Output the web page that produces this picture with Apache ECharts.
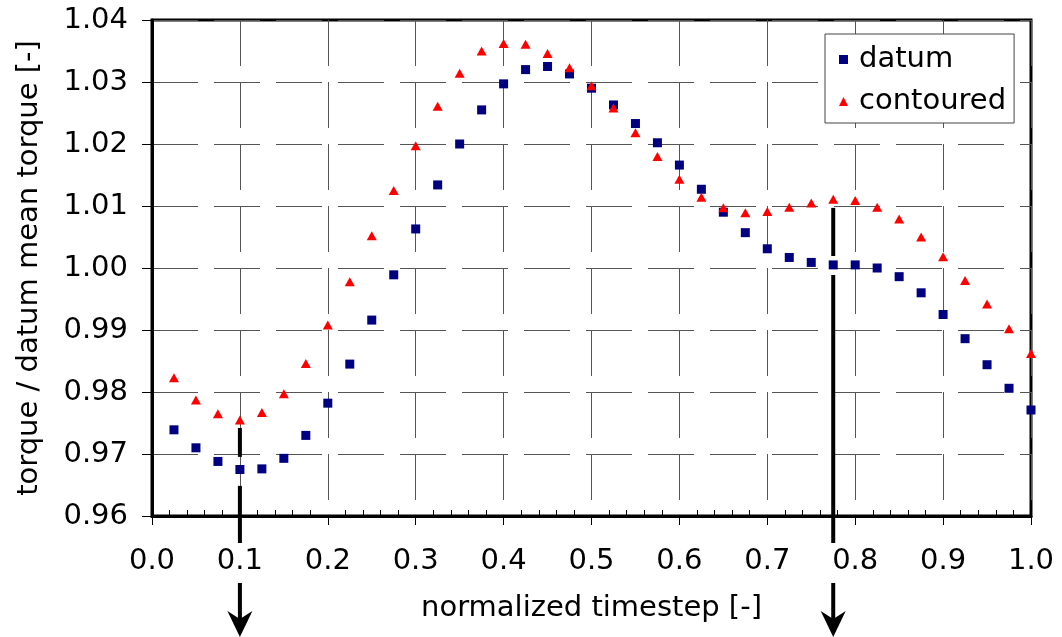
<!DOCTYPE html>
<html>
<head>
<meta charset="utf-8">
<script src="https://cdn.jsdelivr.net/npm/echarts@6/dist/echarts.min.js"></script>
<style>
html,body{margin:0;padding:0;background:#fff;}
#chart{width:1062px;height:637px;}
</style>
</head>
<body>
<div id="chart"></div>
<script>
const timesteps = [0.025,0.05,0.075,0.1,0.125,0.15,0.175,0.2,0.225,0.25,0.275,0.3,0.325,0.35,0.375,0.4,0.425,0.45,0.475,0.5,0.525,0.55,0.575,0.6,0.625,0.65,0.675,0.7,0.725,0.75,0.775,0.8,0.825,0.85,0.875,0.9,0.925,0.95,0.975,1.0];
const datum = [0.9739,0.9710,0.9688,0.9675,0.9676,0.9693,0.9730,0.9782,0.9845,0.9916,0.9989,1.0063,1.0134,1.0200,1.0255,1.0297,1.0320,1.0325,1.0313,1.0290,1.0263,1.0233,1.0202,1.0166,1.0127,1.0090,1.0057,1.0031,1.0017,1.0009,1.0005,1.0005,1.0000,0.9986,0.9960,0.9925,0.9886,0.9844,0.9806,0.9771];
const contoured = [0.9823,0.9787,0.9765,0.9755,0.9767,0.9797,0.9846,0.9908,0.9978,1.0052,1.0125,1.0197,1.0261,1.0314,1.0350,1.0362,1.0361,1.0346,1.0323,1.0294,1.0258,1.0218,1.0180,1.0143,1.0114,1.0097,1.0089,1.0091,1.0098,1.0105,1.0111,1.0109,1.0098,1.0079,1.0050,1.0018,0.9980,0.9942,0.9902,0.9862];
const seriesNames = ['datum','contoured'];
const axisTitles = {x:'normalized timestep [-]', y:'torque / datum mean torque [-]'};
// annotation arrows: x position, top value, value of the datum marker they pass behind
const arrowX = [0.1, 0.775];
const arrowTop = [0.9742, 1.0097];
const arrowGapCenter = [0.9672, 1.0004];

const FONT = 'DejaVu Sans';
const FS = 29;
const chart = echarts.init(document.getElementById('chart'), null, {renderer:'canvas'});

const zip = (xs, ys) => xs.map((x,i)=>[x, ys[i]]);

const gridLine = {show:true, lineStyle:{color:'#555', width:1, type:[46,16]}};

chart.setOption({
  backgroundColor:'#fff',
  animation:false,
  textStyle:{fontFamily:FONT},
  grid:{left:152, right:31, top:20, bottom:121, show:true, borderColor:'#000', borderWidth:3, backgroundColor:'transparent'},
  legend:{
    orient:'vertical', left:825, top:34,
    backgroundColor:'#fff', borderColor:'#444', borderWidth:1,
    padding:[8,8,4,14], itemGap:7, itemWidth:9, itemHeight:9,
    textStyle:{fontFamily:FONT, fontSize:FS, color:'#000', lineHeight:35, padding:[0,0,0,6]},
    data:seriesNames
  },
  xAxis:{
    type:'value', min:0, max:1, interval:0.1,
    name:axisTitles.x, nameLocation:'middle', nameGap:78,
    nameTextStyle:{fontFamily:FONT, fontSize:FS, color:'#000'},
    axisLine:{show:true, onZero:false, lineStyle:{color:'#000', width:3}},
    axisTick:{show:true, inside:false, length:9, lineStyle:{color:'#000', width:1}},
    minorTick:{show:true, splitNumber:5, length:-6, lineStyle:{color:'#000', width:1}},
    axisLabel:{fontFamily:FONT, fontSize:FS, color:'#000', margin:31, formatter:v=>v.toFixed(1)},
    splitLine:gridLine
  },
  yAxis:{
    type:'value', min:0.96, max:1.04, interval:0.01,
    name:axisTitles.y, nameLocation:'middle', nameGap:108,
    nameTextStyle:{fontFamily:FONT, fontSize:FS, color:'#000'},
    axisLine:{show:true, onZero:false, lineStyle:{color:'#000', width:3}},
    axisTick:{show:true, inside:false, length:10, lineStyle:{color:'#000', width:1}},
    axisLabel:{fontFamily:FONT, fontSize:FS, color:'#000', margin:24, formatter:v=>v.toFixed(2)},
    splitLine:gridLine
  },
  series:[
    {name:seriesNames[0], type:'scatter', symbol:'rect', symbolSize:9, itemStyle:{color:'#000080', opacity:1}, data:zip(timesteps, datum), z:3},
    {name:seriesNames[1], type:'scatter', symbol:'triangle', symbolSize:[10,9], itemStyle:{color:'#ff0000', opacity:1}, data:zip(timesteps, contoured), z:3}
  ]
});

function drawArrows(){
  const g = [];
  const axisY = chart.convertToPixel({gridIndex:0}, [0, 0.96])[1];
  arrowX.forEach((x,i)=>{
    const top = chart.convertToPixel({gridIndex:0}, [x, arrowTop[i]]);
    const gc = chart.convertToPixel({gridIndex:0}, [x, arrowGapCenter[i]])[1];
    const px = top[0];
    const half = i === 0 ? 14.5 : 9.5;
    const shape = (y1,y2)=>({type:'line', shape:{x1:px,y1:y1,x2:px,y2:y2}, style:{stroke:'#000', lineWidth:4}, z:10});
    g.push(shape(top[1], gc-half));
    g.push(shape(gc+half, axisY+27));
    g.push(shape(axisY+67, axisY+112));
    g.push({type:'polygon', shape:{points:[[px, axisY+121],[px-12.5, axisY+95],[px, axisY+103],[px+12.5, axisY+95]]}, style:{fill:'#000'}, z:10});
  });
  chart.setOption({graphic:g});
}
drawArrows();
</script>
</body>
</html>
